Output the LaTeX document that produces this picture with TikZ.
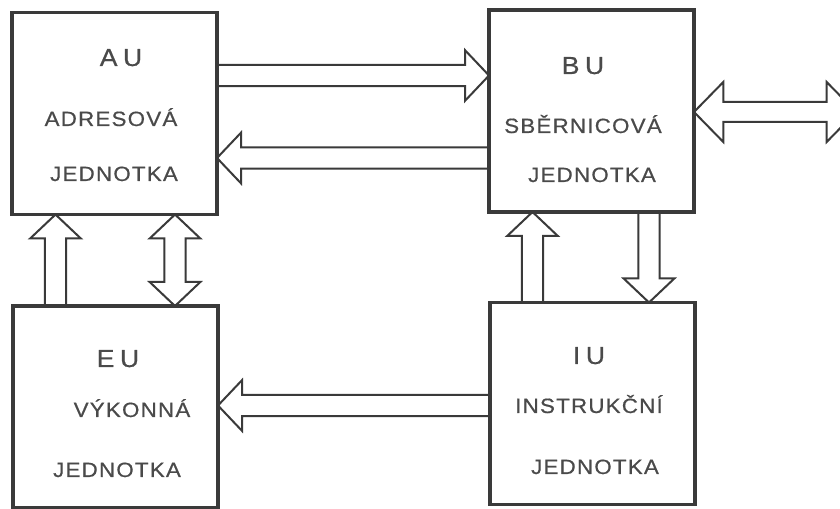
\documentclass[tikz,border=0pt]{standalone}
\usepackage{fontspec}
\usetikzlibrary{calc}
\newfontfamily\unitfont{Liberation Sans}[LetterSpace=6, FakeStretch=1.08, FakeBold=0.6]
\newfontfamily\titlefont{Liberation Sans}[LetterSpace=22, FakeStretch=1.08, FakeBold=0.6]
\definecolor{inkgray}{HTML}{3A3A3A}
\definecolor{textgray}{HTML}{4A4A4A}

\newcommand{\shaftw}{7.9pt}
\newcommand{\headw}{19pt}
\newcommand{\headl}{18pt}

% hollow arrow, tip at #2
\newcommand{\fatarrow}[2]{%
  \coordinate (hb) at ($(#2)!\headl!(#1)$);
  \draw [bus] ($(#1)!\shaftw!90:(#2)$) -- ($(hb)!\shaftw!90:(#2)$)
    -- ($(hb)!\headw!90:(#2)$) -- (#2) -- ($(hb)!\headw!-90:(#2)$)
    -- ($(hb)!\shaftw!-90:(#2)$) -- ($(#1)!\shaftw!-90:(#2)$);}
% hollow arrow, tips at both ends
\newcommand{\fatbiarrow}[2]{%
  \coordinate (ha) at ($(#1)!\headl!(#2)$);
  \coordinate (hb) at ($(#2)!\headl!(#1)$);
  \draw [bus] ($(ha)!\shaftw!90:(#2)$) -- ($(hb)!\shaftw!90:(#2)$)
    -- ($(hb)!\headw!90:(#2)$) -- (#2) -- ($(hb)!\headw!-90:(#2)$)
    -- ($(hb)!\shaftw!-90:(#2)$) -- ($(ha)!\shaftw!-90:(#2)$)
    -- ($(ha)!\headw!-90:(#2)$) -- (#1) -- ($(ha)!\headw!90:(#2)$) -- cycle;}

\tikzset{
  unit/.style={draw=inkgray, line width=2.6pt, minimum width=153.75pt,
    minimum height=151.5pt, inner sep=0pt, outer sep=0pt},
  bus/.style={draw=inkgray, line width=1.5pt, line join=miter},
  unitname/.style={anchor=base, text=textgray, inner sep=0pt,
    font=\titlefont\fontsize{18.5}{20}\selectfont},
  unitlabel/.style={anchor=base, text=textgray, inner sep=0pt,
    font=\unitfont\fontsize{15.5}{17}\selectfont}
}

\begin{document}
\begin{tikzpicture}[x=0.75pt, y=-0.75pt]
  \clip (0,0) rectangle (840,509);
  \fill [white] (0,0) rectangle (840,509);

  \node [unit] (au) at (114.5,113.5) {};
  \node [unit] (bu) at (591.5,111) {};
  \node [unit] (eu) at (115.5,407) {};
  \node [unit] (iu) at (592.5,403.5) {};

  \node [unitname] (au-name) at (121,66) {AU};
  \node [unitlabel] (au-l1) at (111,126) {ADRESOVÁ};
  \node [unitlabel] (au-l2) at (114,181) {JEDNOTKA};
  \node [unitname] (bu-name) at (583,74) {BU};
  \node [unitlabel] (bu-l1) at (583,133) {SBĚRNICOVÁ};
  \node [unitlabel] (bu-l2) at (592,182) {JEDNOTKA};
  \node [unitname] (eu-name) at (118,367) {EU};
  \node [unitlabel] (eu-l1) at (132,417) {VÝKONNÁ};
  \node [unitlabel] (eu-l2) at (117,477) {JEDNOTKA};
  \node [unitname] (iu-name) at (589,364) {IU};
  \node [unitlabel] (iu-l1) at (589,413) {INSTRUKČNÍ};
  \node [unitlabel] (iu-l2) at (595,474) {JEDNOTKA};

  \fatarrow{au.east |- 0,75.5}{bu.west |- 0,75.5}
  \fatarrow{bu.west |- 0,158}{au.east |- 0,158}
  \fatarrow{iu.west |- 0,405.5}{eu.east |- 0,405.5}
  \fatarrow{eu.north -| 55.5,0}{au.south -| 55.5,0}
  \fatbiarrow{au.south -| 175,0}{eu.north -| 175,0}
  \fatarrow{iu.north -| 532.5,0}{bu.south -| 532.5,0}
  \fatarrow{bu.south -| 649,0}{iu.north -| 649,0}

  \coordinate (ext) at (856,112);
  {\renewcommand{\shaftw}{7.5pt}\renewcommand{\headw}{22.5pt}\renewcommand{\headl}{22pt}
  \fatbiarrow{bu.east |- ext}{ext}}
\end{tikzpicture}
\end{document}
